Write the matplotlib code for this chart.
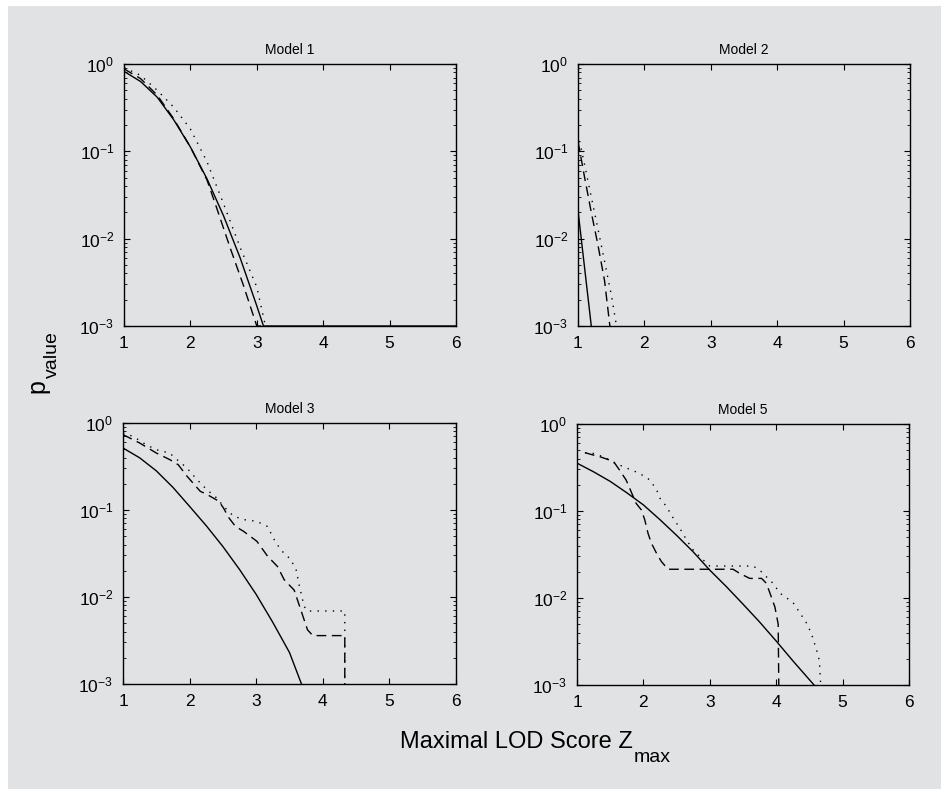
import matplotlib
matplotlib.use('Agg')
import matplotlib.pyplot as plt
from matplotlib.ticker import LogLocator, FixedLocator, NullFormatter, LogFormatterMathtext
from matplotlib.patches import Rectangle

plt.rcParams['font.family'] = ['Liberation Sans', 'DejaVu Sans']
plt.rcParams['mathtext.fontset'] = 'custom'
plt.rcParams['mathtext.rm'] = 'Liberation Sans'
plt.rcParams['mathtext.it'] = 'Liberation Sans:italic'
plt.rcParams['mathtext.bf'] = 'Liberation Sans:bold'
plt.rcParams['mathtext.sf'] = 'Liberation Sans'

# ---------------- data ----------------
titles = ['Model 1', 'Model 2', 'Model 3', 'Model 5']
x_ticks = [1, 2, 3, 4, 5, 6]

# Model 1
m1_solid_x = [1.0, 1.25, 1.5, 1.75, 2.0, 2.25, 2.5, 2.75, 3.0, 3.1, 6.0]
m1_solid_p = [0.824, 0.63, 0.417, 0.229, 0.112, 0.0484, 0.0182, 0.0060, 0.0017, 0.001, 0.001]
m1_dash_x = [1.0, 1.25, 1.5, 1.75, 2.0, 2.25, 2.4, 2.6, 2.8, 2.9, 3.0, 3.1]
m1_dash_p = [0.88, 0.68, 0.44, 0.235, 0.112, 0.047, 0.022, 0.0078, 0.0029, 0.0017, 0.001, 0.001]
m1_dot_x = [1.0, 1.25, 1.5, 1.75, 2.0, 2.25, 2.5, 2.75, 3.0, 3.13]
m1_dot_p = [0.91, 0.74, 0.50, 0.32, 0.18, 0.076, 0.025, 0.0079, 0.0028, 0.001]

# Model 2
m2_solid_x = [1.0, 1.2]
m2_solid_p = [0.021, 0.001]
m2_dash_x = [1.0, 1.1, 1.2, 1.3, 1.4, 1.48]
m2_dash_p = [0.13, 0.05, 0.02, 0.0085, 0.0033, 0.001]
m2_dot_x = [1.0, 1.1, 1.2, 1.3, 1.4, 1.5, 1.58]
m2_dot_p = [0.16, 0.07, 0.03, 0.013, 0.0055, 0.0023, 0.001]

# Model 3
m3_solid_x = [1.0, 1.25, 1.5, 1.75, 2.0, 2.25, 2.5, 2.75, 3.0, 3.25, 3.5, 3.68]
m3_solid_p = [0.516, 0.398, 0.282, 0.182, 0.110, 0.066, 0.038, 0.0207, 0.0107, 0.0051, 0.0023, 0.001]
m3_dash_x = [1.0, 1.25, 1.5, 1.7, 1.83, 1.96, 2.16, 2.26, 2.44, 2.51, 2.59, 2.69, 2.81,
             3.01, 3.17, 3.32, 3.42, 3.57, 3.67, 3.77, 3.85, 4.33, 4.33]
m3_dash_p = [0.735, 0.589, 0.452, 0.380, 0.331, 0.245, 0.164, 0.151, 0.126, 0.105, 0.0813,
             0.0646, 0.0569, 0.0437, 0.0295, 0.0224, 0.0158, 0.0120, 0.0071, 0.0042, 0.0036,
             0.0036, 0.0008]
m3_dot_x = [1.0, 1.15, 1.35, 1.5, 1.7, 1.81, 1.96, 2.11, 2.26, 2.41, 2.51, 2.66, 2.81, 3.01,
            3.17, 3.27, 3.37, 3.52, 3.6, 3.65, 3.72, 3.77, 4.33, 4.33]
m3_dot_p = [0.767, 0.703, 0.562, 0.493, 0.452, 0.380, 0.304, 0.224, 0.171, 0.137, 0.110,
            0.0851, 0.0776, 0.0741, 0.0646, 0.0457, 0.0347, 0.0269, 0.0204, 0.0132, 0.0078,
            0.0069, 0.0069, 0.0008]

# Model 5
m5_solid_x = [1.0, 1.25, 1.5, 1.75, 2.0, 2.25, 2.5, 2.75, 3.0, 3.25, 3.5, 3.75, 4.0, 4.25, 4.57]
m5_solid_p = [0.355, 0.282, 0.219, 0.162, 0.1175, 0.0794, 0.0525, 0.0339, 0.0209, 0.0135,
              0.0085, 0.0053, 0.0032, 0.0019, 0.001]
m5_dash_x = [1.12, 1.24, 1.34, 1.49, 1.57, 1.64, 1.74, 1.89, 1.97, 2.02, 2.07, 2.12, 2.2,
             2.27, 2.37, 3.35, 3.45, 3.6, 3.78, 3.85, 3.9, 3.98, 4.03, 4.04]
m5_dash_p = [0.468, 0.441, 0.422, 0.385, 0.353, 0.296, 0.227, 0.1225, 0.1028, 0.0794, 0.0553,
             0.0427, 0.0324, 0.0263, 0.0214, 0.0214, 0.0192, 0.0168, 0.0168, 0.0148, 0.0117,
             0.0079, 0.0050, 0.0008]
m5_dot_x = [1.12, 1.24, 1.39, 1.54, 1.69, 1.82, 1.94, 2.10, 2.20, 2.25, 2.35, 2.42, 2.55, 2.65,
            2.75, 2.90, 3.00, 3.65, 3.75, 3.85, 3.95, 4.06, 4.16, 4.26, 4.36, 4.46, 4.53, 4.61,
            4.65, 4.67]
m5_dot_p = [0.468, 0.460, 0.422, 0.369, 0.324, 0.296, 0.271, 0.227, 0.174, 0.140, 0.112, 0.090,
            0.063, 0.0465, 0.0356, 0.0274, 0.0233, 0.0233, 0.0210, 0.0176, 0.0148, 0.0113,
            0.0100, 0.0087, 0.0067, 0.0051, 0.0039, 0.0025, 0.0019, 0.001]

series = [
    (m1_solid_x, m1_solid_p, m1_dash_x, m1_dash_p, m1_dot_x, m1_dot_p),
    (m2_solid_x, m2_solid_p, m2_dash_x, m2_dash_p, m2_dot_x, m2_dot_p),
    (m3_solid_x, m3_solid_p, m3_dash_x, m3_dash_p, m3_dot_x, m3_dot_p),
    (m5_solid_x, m5_solid_p, m5_dash_x, m5_dash_p, m5_dot_x, m5_dot_p),
]

# ---------------- figure ----------------
W, H = 941, 789
BG = '#e1e2e4'
fig = plt.figure(figsize=(W / 100, H / 100), dpi=100, facecolor='white')
fig.patches.append(Rectangle((8 / W, 0), 1 - 8 / W, 1 - 6 / H, transform=fig.transFigure,
                             facecolor=BG, edgecolor='none', zorder=-10))

boxes = [(124, 64, 456, 326), (578, 64, 910, 326), (123, 423, 456, 684), (577, 424, 909, 685)]

for (l, t, r, b), title, (sx, sp, dx, dp, ox, op) in zip(boxes, titles, series):
    ax = fig.add_axes([l / W, 1 - b / H, (r - l) / W, (b - t) / H])
    ax.set_facecolor('none')
    ax.plot(sx, sp, color='black', lw=1.0, solid_joinstyle='round')
    ax.plot(dx, dp, color='black', lw=1.0, linestyle=(0, (7, 4)))
    ax.plot(ox, op, color='black', lw=1.0, linestyle=(0, (1, 4.5)))
    ax.set_yscale('log')
    ax.set_ylim(1e-3, 1)
    ax.set_xlim(1, 6)
    ax.xaxis.set_major_locator(FixedLocator(x_ticks))
    ax.yaxis.set_major_locator(LogLocator(base=10, numticks=10))
    ax.yaxis.set_major_formatter(LogFormatterMathtext())
    ax.yaxis.set_minor_locator(LogLocator(base=10, subs=range(2, 10), numticks=20))
    ax.yaxis.set_minor_formatter(NullFormatter())
    ax.tick_params(which='both', direction='in', top=True, right=True, color='black')
    ax.tick_params(which='major', length=4, width=0.8, labelsize=12.5, pad=7)
    ax.tick_params(which='minor', length=2, width=0.6)
    for sp_ in ax.spines.values():
        sp_.set_linewidth(1.0)
        sp_.set_color('black')
    ax.set_title(title, fontsize=10, pad=7)

# axis labels (main text + same-font subscript)
fig.text(633 / W, 1 - 748 / H, 'Maximal LOD Score Z', ha='right', va='baseline', fontsize=17)
fig.text(634 / W, 1 - 762 / H, 'max', ha='left', va='baseline', fontsize=14)
fig.text(44 / W, 1 - 393 / H, 'p', rotation=90, rotation_mode='anchor', ha='left',
         va='baseline', fontsize=18)
fig.text(57 / W, 1 - 378 / H, 'value', rotation=90, rotation_mode='anchor', ha='left',
         va='baseline', fontsize=14)

fig.savefig('out.png', dpi=100, facecolor='white')
